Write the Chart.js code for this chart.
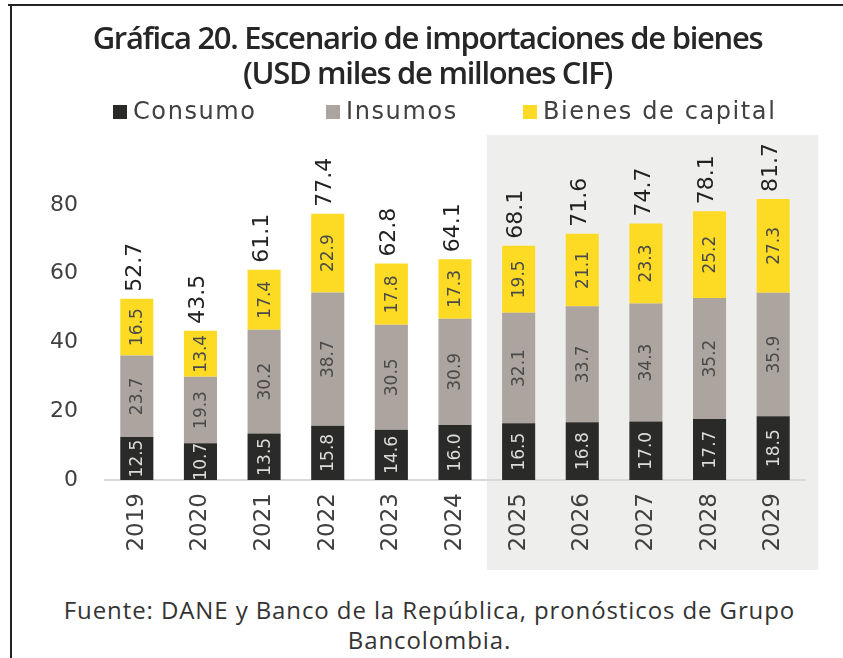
<!DOCTYPE html>
<html>
<head>
<meta charset="utf-8">
<title>Gráfica 20</title>
<script src="https://cdn.jsdelivr.net/npm/chart.js"></script>
<style>
    body { margin: 0; background: #fff; width: 843px; height: 658px; position: relative; overflow: hidden; }
    .frame-top { position: absolute; left: 8px; top: 4px; width: 835px; height: 2px; background: #222; }
    .frame-left { position: absolute; left: 10px; top: 4px; width: 2px; height: 654px; background: #222; }
    .title { position: absolute; left: 6px; top: 20px; width: 843px; text-align: center;
        font-family: "Open Sans"; font-weight: 600; font-size: 31px; letter-spacing: -1.3px;
        line-height: 35px; color: #262626; }
    .legend { position: absolute; top: 97px; left: 0; width: 843px; font-family: "DejaVu Sans"; font-size: 24px;
        color: #404040; letter-spacing: 1.6px; }
    .legend span { position: absolute; white-space: nowrap; }
    .legend i { display: inline-block; width: 14px; height: 14px; margin-right: 6px; }
    .note { position: absolute; left: 8px; top: 595px; width: 843px; text-align: center;
        font-family: "Open Sans"; font-size: 24px; letter-spacing: 0.9px; line-height: 30px; color: #333; }
    #wrap { position: absolute; left: 0; top: 0; width: 843px; height: 570px; }
</style>
</head>
<body>
<div class="frame-top"></div>
<div class="frame-left"></div>
<div id="wrap"><canvas id="chart"></canvas></div>
<div class="title">Gráfica 20. Escenario de importaciones de bienes<br>(USD miles de millones CIF)</div>
<div class="legend">
    <span style="left: 113px"><i style="background: #2a2a28"></i>Consumo</span>
    <span style="left: 326px"><i style="background: #aca59f"></i>Insumos</span>
    <span style="left: 523px"><i style="background: #fddb25"></i>Bienes de capital</span>
</div>
<div class="note">Fuente: DANE y Banco de la República, pronósticos de Grupo<br>Bancolombia.</div>

<script>
    const years = ['2019', '2020', '2021', '2022', '2023', '2024', '2025', '2026', '2027', '2028', '2029']
    const consumo = [12.5, 10.7, 13.5, 15.8, 14.6, 16.0, 16.5, 16.8, 17.0, 17.7, 18.5]
    const insumos = [23.7, 19.3, 30.2, 38.7, 30.5, 30.9, 32.1, 33.7, 34.3, 35.2, 35.9]
    const capital = [16.5, 13.4, 17.4, 22.9, 17.8, 17.3, 19.5, 21.1, 23.3, 25.2, 27.3]
    const totals = [52.7, 43.5, 61.1, 77.4, 62.8, 64.1, 68.1, 71.6, 74.7, 78.1, 81.7]
    const firstForecast = 6 // 2025

    const labelColors = ['#dcdcdc', '#4a4a4a', '#4a4a4a']

    // gray box behind the forecast years
    const shadePlugin = {
        id: 'shade',
        beforeDraw(chart) {
            const ctx = chart.ctx
            const x = chart.scales.x
            const y = chart.scales.y
            const left = (x.getPixelForValue(firstForecast - 1) + x.getPixelForValue(firstForecast)) / 2
            const right = x.getPixelForValue(years.length - 1) + 45
            const top = y.getPixelForValue(100) - 1
            ctx.save()
            ctx.fillStyle = '#eeeeec'
            ctx.fillRect(left, top, right - left, chart.height - top)
            ctx.restore()
        }
    }

    // rotated value labels inside the segments and totals on top
    const labelPlugin = {
        id: 'labels',
        afterDatasetsDraw(chart) {
            const ctx = chart.ctx
            ctx.save()
            ctx.textBaseline = 'middle'
            chart.data.datasets.forEach((ds, di) => {
                chart.getDatasetMeta(di).data.forEach((bar, i) => {
                    const mid = (bar.y + bar.base) / 2
                    ctx.save()
                    ctx.translate(bar.x, mid)
                    ctx.rotate(-Math.PI / 2)
                    ctx.textAlign = 'center'
                    ctx.font = '17px "DejaVu Sans"'
                    ctx.fillStyle = labelColors[di]
                    ctx.fillText(ds.data[i].toFixed(1), 0, 1)
                    ctx.restore()
                })
            })
            const topMeta = chart.getDatasetMeta(2)
            topMeta.data.forEach((bar, i) => {
                ctx.save()
                ctx.translate(bar.x - 2, bar.y - 7)
                ctx.rotate(-Math.PI / 2)
                ctx.textAlign = 'left'
                ctx.font = '22px "DejaVu Sans"'
                ctx.fillStyle = '#222'
                ctx.fillText(totals[i].toFixed(1), 0, 0)
                ctx.restore()
            })
            ctx.restore()
        }
    }

    new Chart(document.getElementById('chart'), {
        type: 'bar',
        data: {
            labels: years,
            datasets: [
                {label: 'Consumo', data: consumo, backgroundColor: '#2a2a28'},
                {label: 'Insumos', data: insumos, backgroundColor: '#aca59f'},
                {label: 'Bienes de capital', data: capital, backgroundColor: '#fddb25'}
            ]
        },
        options: {
            responsive: true,
            maintainAspectRatio: false,
            animation: false,
            categoryPercentage: 1,
            barPercentage: 0.52,
            layout: {padding: {top: 136, right: 38, left: 0, bottom: 0}},
            plugins: {
                legend: {display: false},
                tooltip: {enabled: false}
            },
            scales: {
                x: {
                    stacked: true,
                    grid: {display: false, drawTicks: false},
                    border: {display: true, color: '#d9d9d9', width: 2},
                    ticks: {
                        minRotation: 90,
                        maxRotation: 90,
                        padding: 13,
                        color: '#404040',
                        font: {family: 'DejaVu Sans', size: 23}
                    },
                    afterFit: s => { s.height = 90 }
                },
                y: {
                    stacked: true,
                    min: 0,
                    max: 100,
                    grid: {display: false, drawTicks: false},
                    border: {display: false},
                    ticks: {
                        stepSize: 20,
                        padding: 27,
                        color: '#404040',
                        font: {family: 'DejaVu Sans', size: 22}
                    },
                    afterBuildTicks: s => { s.ticks = s.ticks.filter(t => t.value <= 80) },
                    afterFit: s => { s.width = 105 }
                }
            }
        },
        plugins: [shadePlugin, labelPlugin]
    });
</script>
</body>
</html>
